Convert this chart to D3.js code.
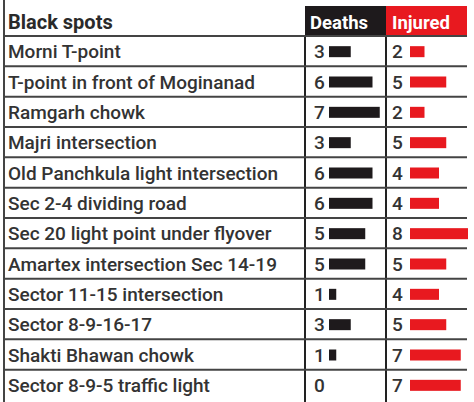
<!DOCTYPE html><html><head><meta charset="utf-8">
<script src="https://cdn.jsdelivr.net/npm/d3@7"></script>
<style>body{margin:0;background:#fff}text{font-family:Roboto,"Open Sans",sans-serif}</style></head><body>
<svg id="c" width="474" height="402"></svg>
<script>
const categories=["Morni T-point","T-point in front of Moginanad","Ramgarh chowk","Majri intersection","Old Panchkula light intersection","Sec 2-4 dividing road","Sec 20 light point under flyover","Amartex intersection Sec 14-19","Sector 11-15 intersection","Sector 8-9-16-17","Shakti Bhawan chowk","Sector 8-9-5 traffic light"];
const deaths=[3,6,7,3,6,6,5,5,1,3,1,0];
const injured=[2,5,2,5,4,4,8,5,4,5,7,7];
const headers=["Black spots","Deaths","Injured"];
const svg=d3.select("#c");
const y=d3.scaleBand().domain(categories).range([36,400]);
const w=d3.scaleLinear().domain([0,8]).range([0,58]);
const x0=305,x1=386,x2=467;
svg.append("rect").attr("x",x0).attr("y",6).attr("width",x1-x0).attr("height",30).attr("fill","#1e1a1c");
svg.append("rect").attr("x",x1).attr("y",6).attr("width",x2-x1).attr("height",30).attr("fill","#e8191f");
svg.append("text").attr("x",8).attr("y",29).text(headers[0]).attr("font-size",20).attr("font-weight",700).attr("fill","#2a2a2a");
svg.append("text").attr("x",x0+5).attr("y",29).text(headers[1]).attr("font-size",18.5).attr("font-weight",700).attr("fill","#fff");
svg.append("text").attr("x",x1+6).attr("y",29).text(headers[2]).attr("font-size",18.5).attr("font-weight",700).attr("fill","#fff");
svg.append("line").attr("x1",4).attr("x2",4).attr("y1",0).attr("y2",402).attr("stroke","#444").attr("stroke-width",2);
[x0,x1].forEach(xx=>svg.append("line").attr("x1",xx).attr("x2",xx).attr("y1",36).attr("y2",402).attr("stroke","#222").attr("stroke-width",2));
categories.forEach(c=>svg.append("line").attr("x1",4).attr("x2",x2).attr("y1",y(c)).attr("y2",y(c)).attr("stroke","#444").attr("stroke-width",2));
const g=svg.selectAll("g.r").data(categories).join("g").attr("transform",d=>`translate(0,${y(d)+y.bandwidth()/2})`);
g.append("text").attr("x",8).attr("y",7).text(d=>d).attr("font-size",19).attr("font-weight",500).attr("fill","#333");
g.append("text").attr("x",x0+9).attr("y",7).text((d,i)=>deaths[i]).attr("font-size",19).attr("font-weight",500).attr("fill","#333");
g.append("rect").attr("x",x0+24).attr("y",-5).attr("height",11).attr("width",(d,i)=>w(deaths[i])).attr("fill","#1e1a1c");
g.append("text").attr("x",x1+6).attr("y",7).text((d,i)=>injured[i]).attr("font-size",19).attr("font-weight",500).attr("fill","#333");
g.append("rect").attr("x",x1+24).attr("y",-5).attr("height",11).attr("width",(d,i)=>w(injured[i])).attr("fill","#e8191f");
</script></body></html>
